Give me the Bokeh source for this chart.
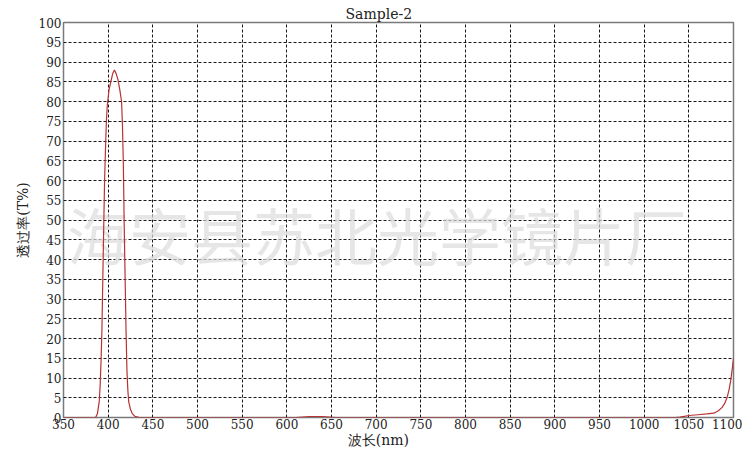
from bokeh.plotting import figure
from bokeh.models import ColumnDataSource, FixedTicker, Range1d
from bokeh.core.properties import value
from bokeh.embed import file_html
from bokeh.resources import INLINE

# ---- data ----
wavelength = [350, 386, 388, 390, 391, 392, 393, 394, 395, 396, 397, 398, 399, 400,
              401, 403, 405, 407, 409, 411, 413, 415, 416, 417, 418, 419, 420, 421,
              422, 423, 425, 427, 430, 435, 610, 625, 640, 655, 1035, 1040, 1045,
              1050, 1060, 1070, 1078, 1083, 1087, 1090, 1093, 1095, 1097, 1099, 1100]
transmittance = [0, 0, 1, 4, 8, 14, 22, 35, 48, 60, 68, 75, 79, 81,
                 83, 85, 87, 88, 87, 85.5, 83, 80, 74, 64, 48, 35, 22, 12,
                 7, 4, 2, 1, 0.3, 0, 0, 0.25, 0.25, 0, 0, 0.1, 0.3,
                 0.5, 0.7, 0.9, 1.1, 1.7, 2.5, 3.5, 5.2, 7, 9.5, 13, 15]
x_ticks = list(range(350, 1101, 50))
y_ticks = list(range(0, 101, 5))
title_text = "Sample-2"
x_label = "波长(nm)" + "\u00a0" * 9
y_label = "透过率(T%)"
watermark_text = ["海安县苏北光学镜片厂"]
watermark_x = [701]
watermark_y = [46.5]

SERIF = "DejaVu Serif"

p = figure(width=742, height=450, output_backend="svg", toolbar_location=None,
           x_range=Range1d(350, 1100), y_range=Range1d(0, 100),
           min_border_left=63, min_border_right=9, min_border_top=22, min_border_bottom=0)

p.title.text = title_text
p.title.align = "left"
p.title.offset = 282
p.title.text_font = SERIF
p.title.text_font_size = "14px"
p.title.text_font_style = "normal"
p.title.text_color = "#222222"
p.title.standoff = 2

p.background_fill_color = "white"
p.border_fill_color = "white"
p.outline_line_color = "#7a7a7a"
p.outline_line_width = 1.5

for ax in (p.xaxis[0], p.yaxis[0]):
    ax.axis_line_color = None
    ax.major_tick_line_color = None
    ax.minor_tick_line_color = None
    ax.major_tick_out = 0
    ax.major_tick_in = 0
    ax.major_label_text_font = SERIF
    ax.major_label_text_font_size = "12px"
    ax.major_label_text_color = "#222222"
    ax.axis_label_text_font = SERIF
    ax.axis_label_text_font_size = "14px"
    ax.axis_label_text_font_style = "normal"
    ax.axis_label_text_color = "#222222"

p.xaxis.ticker = FixedTicker(ticks=x_ticks)
p.yaxis.ticker = FixedTicker(ticks=y_ticks)
p.xaxis.axis_label = x_label
p.yaxis.axis_label = y_label
p.xaxis.major_label_standoff = 1
p.xaxis.axis_label_standoff = 0
p.yaxis.major_label_standoff = 2
p.yaxis.axis_label_standoff = 5

for g in (p.xgrid[0], p.ygrid[0]):
    g.grid_line_color = "black"
    g.grid_line_dash = "3 2"
    g.grid_line_width = 1
    g.grid_line_alpha = 0.9
p.xgrid.ticker = FixedTicker(ticks=x_ticks)
p.ygrid.ticker = FixedTicker(ticks=y_ticks)

wm = ColumnDataSource(dict(x=watermark_x, y=watermark_y, t=watermark_text))
p.text(x="x", y="y", text="t", source=wm, text_font=value("Noto Sans CJK SC"),
       text_font_size="62px", text_align="center", text_baseline="middle",
       text_color="#dcdcdc", text_alpha=0.7)

src = ColumnDataSource(dict(x=wavelength, y=transmittance))
p.line(x="x", y="y", source=src, line_color="#b83232", line_width=1.2)

open("out.html", "w").write(file_html(p, INLINE))
